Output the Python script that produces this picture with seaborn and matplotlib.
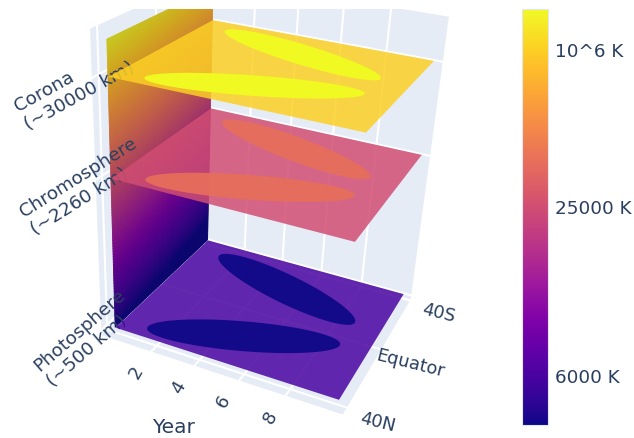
import numpy as np, matplotlib
matplotlib.use('Agg')
import matplotlib.pyplot as plt
import seaborn as sns
from mpl_toolkits.mplot3d.art3d import Poly3DCollection
from matplotlib.patches import Rectangle
from matplotlib.cm import ScalarMappable
from matplotlib.colors import Normalize

sns.set_theme(style='white')
plt.rcParams['font.family'] = ['DejaVu Sans']
TXT = '#2a3f5f'; PANE = '#E5ECF6'
W, H = 634, 439
plasma = sns.color_palette('plasma', as_cmap=True)

years = [0, 10]
lats = [-40, 40]
year_ticks = [2, 4, 6, 8]
lat_ticks = [-40, 0, 40]
lat_labels = ['40N', 'Equator', '40S']
layer_names = ['Photosphere\n(~500 km)', 'Chromosphere\n(~2260 km)', 'Corona\n(~30000 km)']
layer_z = [0, 53.5, 85.5]
wall_top = 96.4
plane_val = [.12, .526, .904]
spot_val = [0.0, .63, 1.0]
spot_alpha = [.93, .93, 1.0]
spot_center_year = [5, 5]
spot_center_lat = [-21, 19.5]
spot_major = [(3.8, 13.5), (3.8, -11.5)]
spot_minor = [(-.44, 9.2), (-.44, -9.2)]
cbar_ticks = [.12, .526, .904]
cbar_labels = ['6000 K', '25000 K', '10^6 K']

fig = plt.figure(figsize=(W/100, H/100), dpi=100)
S, Tx, Ty = 959.3, 269.8, 181.9
ax = fig.add_axes([(Tx-S)/W, (H-Ty-S)/H, 2*S/W, 2*S/H], projection='3d', computed_zorder=False)
ax.set_xlim(-.4, 10.4, view_margin=0); ax.set_ylim(-44.8, 40.4, view_margin=0); ax.set_zlim(-2, 100, view_margin=0)
ax.view_init(elev=26.437, azim=-67.063, roll=-3.067); ax._dist = 3.836
ax.set_box_aspect((1, .821, 1.231))
ax.viewLim.intervalx = (-1, 1); ax.viewLim.intervaly = (-1, 1)
ax.patch.set_alpha(0)
for a in (ax.xaxis, ax.yaxis, ax.zaxis):
    a.set_pane_color(PANE); a.pane.set_edgecolor('white'); a.pane.set_linewidth(1)
    a.line.set_color('white')
    a._axinfo['grid'].update(color='white', linewidth=1.5)
    a._axinfo['tick'].update(inward_factor=0, outward_factor=0)
ax.set_xticks(year_ticks); ax.set_yticks(lat_ticks); ax.set_zticks(layer_z)
ax.set_xticklabels([str(y) for y in year_ticks], rotation=60, color=TXT, fontsize=13, ha='center', va='center')
ax.set_yticklabels(lat_labels, rotation=-14, color=TXT, fontsize=12.8, ha='center', va='center')
ax.set_zticklabels(layer_names, rotation=32, color=TXT, fontsize=13.2, ha='center', va='center', multialignment='left')
ax.zaxis.set_ticks_position('lower')
ax.tick_params(axis='x', pad=17); ax.tick_params(axis='y', pad=28); ax.tick_params(axis='z', pad=22)

def nudge(axis, shifts):
    # fine pixel offsets of the tick labels, applied where mplot3d positions them
    for tick, (dx, dy) in zip(axis.get_major_ticks(), shifts):
        base = tick.label1.set_position
        tick.label1.set_position = (lambda xy, b=base, ox=dx/S, oy=-dy/S: b((xy[0]+ox, xy[1]+oy)))
nudge(ax.xaxis, [(-11, 6)]*4)
nudge(ax.yaxis, [(18, -4)]*3)
nudge(ax.zaxis, [(0, 5), (4, 4), (0, 7)])

# the layer labels sit above the wall but below the translucent planes:
# take their places from the z axis, then redraw them in that stacking slot
fig.canvas.draw()
for tick, name, rot in zip(ax.zaxis.get_major_ticks(), layer_names, [41, 32, 29]):
    px, py = tick.label1.get_position()
    ax.text2D(px, py, name, transform=ax.transData, rotation=rot, color=TXT, fontsize=13.2,
              ha='center', va='center', multialignment='left', zorder=2)
    tick.label1.set_alpha(0)

yy = np.linspace(-40, 40, 60); zz = np.linspace(0, wall_top, 100)
Yw, Zw = np.meshgrid(yy, zz); Xw = np.zeros_like(Yw)
vw = np.clip(1.03*Zw/100-.09*(Yw+40)/80, 0, 1)
cw = plasma(vw); cw[..., :3] *= .82
ax.plot_surface(Xw, Yw, Zw, facecolors=cw, rstride=1, cstride=1, shade=False, linewidth=.6, antialiased=True, zorder=1)
t = np.linspace(0, 2*np.pi, 90)
for i, (z, pv, sv, sa) in enumerate(zip(layer_z, plane_val, spot_val, spot_alpha)):
    Xp, Yp = np.meshgrid(years, lats)
    ax.plot_surface(Xp, Yp, np.full_like(Xp, z, float), color=plasma(pv), alpha=.85, shade=False, linewidth=0, zorder=3+2*i)
    polys = []
    for cx, cy, ma, mi in zip(spot_center_year, spot_center_lat, spot_major, spot_minor):
        polys.append(np.c_[cx+ma[0]*np.cos(t)+mi[0]*np.sin(t), cy+ma[1]*np.cos(t)+mi[1]*np.sin(t), np.full_like(t, z)])
    ax.add_collection3d(Poly3DCollection(polys, facecolor=plasma(sv), edgecolor='none', alpha=sa, zorder=4+2*i))

fig.add_artist(Rectangle((0, 1-10/H), 520/W, 10/H, transform=fig.transFigure, fc='white', ec='none', zorder=5))
fig.text(174/W, 1-428/H, 'Year', color=TXT, fontsize=14.5, ha='center', va='center')
cax = fig.add_axes([522/W, 1-426/H, 26/W, 416/H])
cb = fig.colorbar(ScalarMappable(Normalize(0, 1), plasma), cax=cax, ticks=cbar_ticks)
cb.set_ticklabels(cbar_labels); cb.ax.tick_params(length=0, pad=5, labelsize=13.2, labelcolor=TXT)
cb.outline.set_edgecolor('#e2e6f0'); cb.outline.set_linewidth(.8)
fig.savefig('out.png', dpi=100)
